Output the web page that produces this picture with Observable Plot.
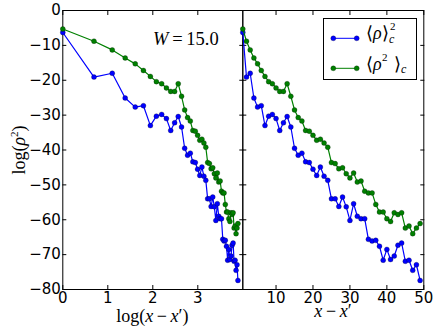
<!DOCTYPE html>
<html><head><meta charset="utf-8">
<script src="https://cdn.jsdelivr.net/npm/d3@7"></script>
<script src="https://cdn.jsdelivr.net/npm/@observablehq/plot@0.6"></script>
<style>
body{margin:0;background:#fff;}
#wrap{position:relative;width:436px;height:327px;overflow:hidden;font-family:"DejaVu Sans";}
#wrap svg.plot{position:absolute;left:0;top:0;}
#wrap svg.plot text{font-family:"DejaVu Sans";}
.m{font-family:"Liberation Serif",serif;position:absolute;white-space:nowrap;line-height:1;color:#000;}
.i{font-style:italic;}
</style></head><body><div id="wrap"></div>
<script>
// separation x - x'
const sep = [1,2,3,4,5,6,7,8,9,10,11,12,13,14,15,16,17,18,19,20,21,22,23,24,25,26,27,28,29,30,31,32,33,34,35,36,37,38,39,40,41,42,43,44,45,46,47,48,49];
// <rho>_c^2
const meanSq = [-6.3,-19.1,-18.0,-25.1,-27.7,-27.3,-33.0,-30.3,-29.8,-31.0,-34.4,-32.2,-30.4,-33.4,-39.5,-41.5,-40.9,-43.4,-43.6,-45.5,-47.3,-44.9,-47.5,-48.7,-54.0,-54.0,-56.2,-53.5,-56.3,-60.2,-55.4,-59.0,-59.7,-59.7,-65.6,-66.1,-65.9,-67.6,-71.6,-68.5,-71.4,-70.4,-67.3,-66.7,-71.9,-71.6,-74.5,-72.9,-77.4];
// <rho^2>_c
const sqMean = [-5.3,-8.8,-11.3,-13.6,-15.3,-17.2,-18.9,-20.4,-21.0,-22.2,-23.2,-23.2,-21.0,-24.6,-28.5,-30.7,-31.7,-34.4,-34.6,-35.8,-37.2,-36.9,-38.0,-39.2,-43.6,-43.9,-45.4,-45.1,-46.8,-48.0,-46.6,-49.2,-48.9,-51.8,-52.3,-52.3,-55.6,-57.8,-57.8,-59.7,-60.5,-58.0,-58.5,-58.0,-62.4,-61.8,-64.0,-62.4,-61.1];
const yTicks = [-80,-70,-60,-50,-40,-30,-20,-10,0];
const xTicksLog = [0,1,2,3];
const xTicksLin = [10,20,30,40,50];

const rows = sep.map((s,i)=>({s, ls: Math.log(s), b: meanSq[i], g: sqMean[i]}));

const W = 436, H = 327;
const common = {width: W, height: H, marginTop: 10, marginBottom: 38,
  y: {domain: [-80, 0]},
  style: {background: "transparent", fontFamily: "DejaVu Sans", fontSize: "15px", color: "black", overflow: "visible"}};
const none = () => "";
const tf = {fontSize: 15, fontFamily: "DejaVu Sans"};
function series(xk) {
  return [
    Plot.line(rows, {x: xk, y: "b", stroke: "#0000ff", strokeWidth: 1.2}),
    Plot.dot(rows, {x: xk, y: "b", r: 2.5, fill: "#0000ff", stroke: "#000", strokeOpacity: 0.5, strokeWidth: 0.5}),
    Plot.line(rows, {x: xk, y: "g", stroke: "#008000", strokeWidth: 1.2}),
    Plot.dot(rows, {x: xk, y: "g", r: 2.5, fill: "#008000", stroke: "#000", strokeOpacity: 0.5, strokeWidth: 0.5})
  ];
}
function frameAxes(xt, labelsY) {
  const m = [
    Plot.axisX({anchor: "bottom", ticks: xt, tickSize: 0, tickPadding: 3, tickFormat: d => String(d), label: null, ...tf}),
    Plot.axisX({anchor: "bottom", ticks: xt, tickSize: -4, tickFormat: none, label: null}),
    Plot.axisX({anchor: "top", ticks: xt, tickSize: -4, tickFormat: none, label: null}),
    Plot.axisY({anchor: "left", ticks: yTicks, tickSize: -4, tickFormat: none, label: null}),
    Plot.axisY({anchor: "right", ticks: yTicks, tickSize: -4, tickFormat: none, label: null}),
    Plot.frame({stroke: "black", strokeWidth: 1})
  ];
  if (labelsY) m.push(Plot.axisY({anchor: "left", ticks: yTicks, tickSize: 0, tickPadding: 2, label: null, ...tf}));
  return m;
}
const leftPlot = Plot.plot({...common, marginLeft: 62.3, marginRight: W - 242.3,
  x: {domain: [0, 4]},
  marks: [...frameAxes(xTicksLog, true), ...series("ls")]});
const rightPlot = Plot.plot({...common, marginLeft: 242.3, marginRight: W - 423.3,
  x: {domain: [1, 50]},
  marks: [...frameAxes(xTicksLin, false), ...series("s")]});
const wrap = document.getElementById("wrap");
leftPlot.classList.add("plot"); rightPlot.classList.add("plot");
wrap.appendChild(leftPlot); wrap.appendChild(rightPlot);

function add(html, style) {
  const d = document.createElement("div");
  d.className = "m"; d.innerHTML = html; Object.assign(d.style, style); wrap.appendChild(d); return d;
}
// axis titles
add('log(<span class="i">x</span>&#8201;&#8722;&#8201;<span class="i">x</span>&#8242;)', {left: "152.3px", top: "307px", fontSize: "18px", transform: "translateX(-50%)"});
add('<span class="i">x</span>&#8201;&#8722;&#8201;<span class="i">x</span>&#8242;', {left: "333px", top: "302px", fontSize: "18px", transform: "translateX(-50%)"});
add('log(<span class="i">&#961;</span><sup style="font-size:11px;vertical-align:7px">2</sup>)', {left: "17.5px", top: "149.5px", fontSize: "18px", transform: "translate(-50%,-50%) rotate(-90deg)"});
add('<span class="i">W</span>&#8201;=&#8201;15.0', {left: "153px", top: "30px", fontSize: "18.5px"});

// legend
const leg = document.createElement("div");
Object.assign(leg.style, {position: "absolute", left: "322.5px", top: "17.5px", width: "92px", height: "60.5px", border: "1px solid #000", background: "#fff"});
wrap.appendChild(leg);
const ns = "http://www.w3.org/2000/svg";
const sw = document.createElementNS(ns, "svg");
sw.setAttribute("width", 40); sw.setAttribute("height", 60);
Object.assign(sw.style, {position: "absolute", left: "0px", top: "0px"});
leg.appendChild(sw);
[["#0000ff", 19.3], ["#008000", 49.3]].forEach(([c, yy]) => {
  const l = document.createElementNS(ns, "line");
  l.setAttribute("x1", 9.3); l.setAttribute("x2", 32.7); l.setAttribute("y1", yy); l.setAttribute("y2", yy);
  l.setAttribute("stroke", c); sw.appendChild(l);
  [9.3, 32.7].forEach(xx => {
    const ci = document.createElementNS(ns, "circle");
    ci.setAttribute("cx", xx); ci.setAttribute("cy", yy); ci.setAttribute("r", 2.5);
    ci.setAttribute("fill", c); ci.setAttribute("stroke", "#000"); ci.setAttribute("stroke-opacity", 0.5); ci.setAttribute("stroke-width", 0.5);
    sw.appendChild(ci);
  });
});
add('&#10216;<span class="i">&#961;</span>&#10217;', {left: "366px", top: "24px", fontSize: "18px"});
add('2', {left: "390px", top: "21px", fontSize: "11px"});
add('<span class="i">c</span>', {left: "389px", top: "33px", fontSize: "12px"});
add('&#10216;<span class="i">&#961;</span>', {left: "366px", top: "55px", fontSize: "18px"});
add('2', {left: "382px", top: "52px", fontSize: "11px"});
add('&#10217;', {left: "394px", top: "55px", fontSize: "18px"});
add('<span class="i">c</span>', {left: "401px", top: "63px", fontSize: "12px"});
</script></body></html>
